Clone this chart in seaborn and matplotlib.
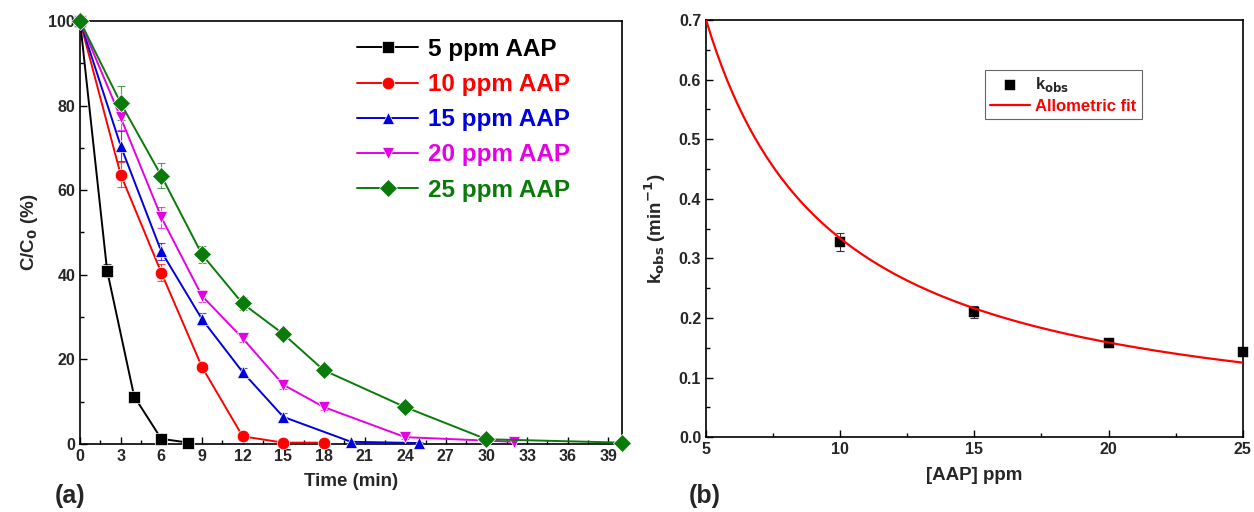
import numpy as np
import pandas as pd
import matplotlib
matplotlib.use("Agg")
import matplotlib.pyplot as plt
import seaborn as sns

# Panel (a): C/C0 vs time for each initial AAP concentration
series_names = ['5 ppm AAP', '10 ppm AAP', '15 ppm AAP', '20 ppm AAP', '25 ppm AAP']
series_colors = ['black', 'red', '#0000dd', '#e600e6', '#0a7a0a']
series_markers = ['s', 'o', '^', 'v', 'D']

t_5 = [0, 2, 4, 6, 8]
c_5 = [100, 41.0, 11.2, 1.2, 0.3]
e_5 = [0, 1.5, 0.8, 0.5, 0.3]

t_10 = [0, 3, 6, 9, 12, 15, 18]
c_10 = [100, 63.7, 40.5, 18.2, 1.8, 0.3, 0.3]
e_10 = [0, 3.0, 2.0, 1.0, 0.5, 0.3, 0.3]

t_15 = [0, 3, 6, 9, 12, 15, 20, 25]
c_15 = [100, 70.5, 45.5, 29.5, 17.0, 6.4, 0.5, 0.2]
e_15 = [0, 3.5, 2.0, 1.5, 1.0, 0.8, 0.3, 0.2]

t_20 = [0, 3, 6, 9, 12, 15, 18, 24, 32]
c_20 = [100, 77.2, 53.6, 35.0, 25.0, 14.0, 8.7, 1.6, 0.5]
e_20 = [0, 3.0, 2.5, 1.5, 1.0, 1.0, 0.8, 0.5, 0.5]

t_25 = [0, 3, 6, 9, 12, 15, 18, 24, 30, 40]
c_25 = [100, 80.6, 63.4, 44.8, 33.2, 26.0, 17.4, 8.7, 1.1, 0.3]
e_25 = [0, 4.0, 3.0, 2.0, 1.5, 1.0, 1.0, 0.8, 0.5, 0.3]

times = [t_5, t_10, t_15, t_20, t_25]
concs = [c_5, c_10, c_15, c_20, c_25]
errs = [e_5, e_10, e_15, e_20, e_25]

# Panel (b): observed rate constants and allometric fit y = a * x^b
aap_ppm = [10, 15, 20, 25]
k_obs = [0.328, 0.210, 0.158, 0.143]
k_err = [0.015, 0.010, 0.006, 0.006]
fit_a = 3.92
fit_b = -1.07

sns.set_style("ticks")
plt.rcParams['font.family'] = ['Liberation Sans', 'DejaVu Sans']
plt.rcParams['font.weight'] = 'bold'
plt.rcParams['mathtext.default'] = 'bf'

fig = plt.figure(figsize=(12.54, 5.12), dpi=100)
ax1 = fig.add_axes([0.0638, 0.133, 0.4322, 0.826])
ax2 = fig.add_axes([0.563, 0.146, 0.428, 0.815])

# --- panel (a)
rows = []
for name, tt, cc in zip(series_names, times, concs):
    for t, c in zip(tt, cc):
        rows.append({'time': t, 'conc': c, 'series': name})
df = pd.DataFrame(rows)

sns.lineplot(data=df, x='time', y='conc', hue='series', style='series',
             hue_order=series_names, style_order=series_names,
             palette=series_colors, markers=series_markers, dashes=False,
             markersize=9, markeredgewidth=0.5, linewidth=1.4, ax=ax1,
             clip_on=False, zorder=3)
for tt, cc, ee, col in zip(times, concs, errs, series_colors):
    ax1.errorbar(tt, cc, yerr=ee, fmt='none', ecolor=col, elinewidth=0.8,
                 capsize=3, capthick=0.8, alpha=0.7, zorder=2)

ax1.set_xlim(0, 40)
ax1.set_ylim(0, 100)
ax1.set_xticks(np.arange(0, 40, 3))
ax1.set_xticks(np.arange(1.5, 40, 3), minor=True)
ax1.set_yticks(np.arange(0, 101, 20))
ax1.set_yticks(np.arange(10, 100, 20), minor=True)
ax1.set_xlabel('Time (min)', fontsize=13.5, fontweight='bold', labelpad=7)
ax1.set_ylabel('C/C$_0$ (%)', fontsize=13.5, fontweight='bold', labelpad=6)

leg = ax1.legend(loc='upper right', frameon=False, fontsize=17.5,
                 handlelength=2.5, labelspacing=0.5, borderaxespad=0.3,
                 handletextpad=0.4, bbox_to_anchor=(0.935, 1.0))
for txt, col in zip(leg.get_texts(), series_colors):
    txt.set_color(col)
    txt.set_fontweight('bold')

# --- panel (b)
x_fit = np.linspace(5, 25, 200)
fit_df = pd.DataFrame({'x': x_fit, 'y': fit_a * x_fit ** fit_b})
k_df = pd.DataFrame({'x': aap_ppm, 'y': k_obs})

ax2.errorbar(aap_ppm, k_obs, yerr=k_err, fmt='none', ecolor='#333333',
             elinewidth=0.8, capsize=3, capthick=0.8, zorder=2)
sns.scatterplot(data=k_df, x='x', y='y', marker='s', color='black', s=60,
                edgecolor='black', linewidth=0.3, ax=ax2, zorder=3,
                clip_on=False, label='k$_{obs}$')
sns.lineplot(data=fit_df, x='x', y='y', color='red', linewidth=1.6, ax=ax2,
             zorder=4, label='Allometric fit')

ax2.set_xlim(5, 25)
ax2.set_ylim(0, 0.7)
ax2.set_xticks([5, 10, 15, 20, 25])
ax2.set_xticks([7.5, 12.5, 17.5, 22.5], minor=True)
ax2.set_yticks(np.arange(0, 0.71, 0.1))
ax2.set_yticks(np.arange(0.05, 0.7, 0.1), minor=True)
ax2.yaxis.set_major_formatter(matplotlib.ticker.FormatStrFormatter('%.1f'))
ax2.set_xlabel('[AAP] ppm', fontsize=13.5, fontweight='bold', labelpad=7)
ax2.set_ylabel('k$_{obs}$ (min$^{-1}$)', fontsize=13.5, fontweight='bold', labelpad=8)

leg2 = ax2.legend(loc='upper left', bbox_to_anchor=(0.505, 0.9), fontsize=12,
                  frameon=True, fancybox=False, edgecolor='#666666',
                  framealpha=1, handlelength=2.4, borderpad=0.3,
                  labelspacing=0.3, handletextpad=0.3)
leg2.get_frame().set_linewidth(0.8)
leg2.get_texts()[1].set_color('red')
for txt in leg2.get_texts():
    txt.set_fontweight('bold')

for ax in (ax1, ax2):
    for sp in ax.spines.values():
        sp.set_linewidth(1.2)
        sp.set_color('black')
    ax.tick_params(which='both', direction='in', top=False, right=False,
                   labelsize=11.5, width=1.0, color='black')
    ax.tick_params(which='major', length=5)
    ax.tick_params(which='minor', length=3)
    for lab in ax.get_xticklabels() + ax.get_yticklabels():
        lab.set_fontweight('bold')

fig.text(0.044, 0.018, '(a)', fontsize=18, fontweight='bold')
fig.text(0.549, 0.018, '(b)', fontsize=18, fontweight='bold')

fig.savefig('out.png', dpi=100)
